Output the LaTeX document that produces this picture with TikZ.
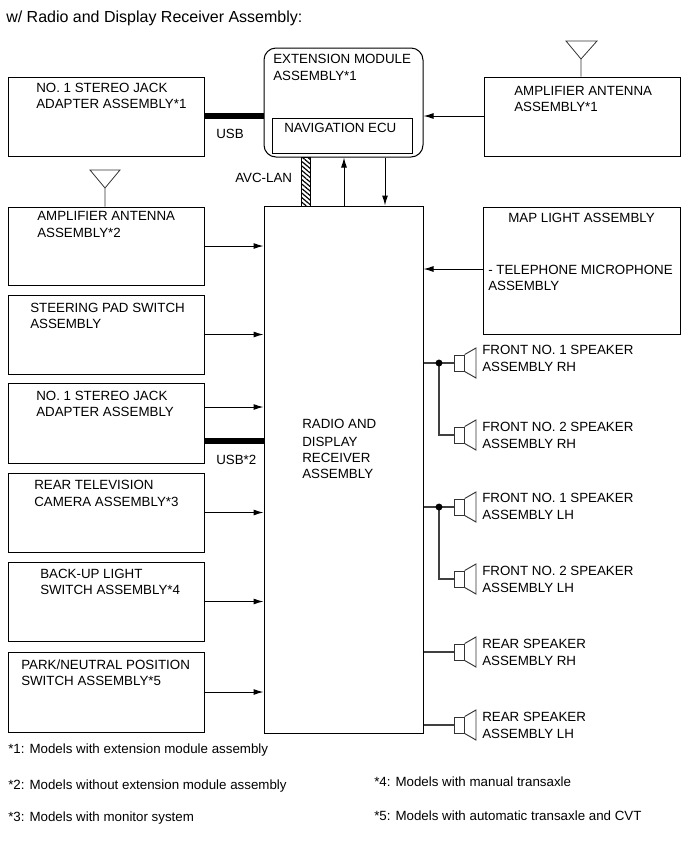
\documentclass[tikz,border=0pt]{standalone}
\usepackage{fontspec}
\setmainfont{Liberation Sans}
\usetikzlibrary{arrows.meta, fit, patterns.meta}
\tikzset{
  blk/.style={rectangle, draw=black, line width=0.75pt, inner sep=0pt},
  txt/.style={anchor=west, inner sep=0pt, yshift=-0.75pt, font=\fontsize{10}{12}\selectfont},
  note/.style={anchor=west, inner sep=0pt, yshift=-0.75pt, font=\fontsize{10}{12}\selectfont},
  sig/.style={draw=black, line width=0.75pt, -{Latex[length=7.5pt,width=4.5pt]}},
  wire/.style={draw=black!75, line width=0.8pt},
  usbbar/.style={draw=black, line width=4.8pt},
  spkbox/.style={rectangle, draw=black!80, line width=0.7pt, fill=white, minimum width=7pt, minimum height=12pt, inner sep=0pt},
  ant/.style={draw=black!80, line width=0.6pt}
}
\begin{document}
\begin{tikzpicture}[x=0.75pt, y=-0.75pt]
\useasboundingbox (0,0) rectangle (689,854);

\node[txt, font=\fontsize{12}{14}\selectfont] (title) at (6,17) {w/ Radio and Display Receiver Assembly:};

% main unit and extension module
\node[blk, fit={(264,206)(423,733)}] (radio) {};
\node[blk, rounded corners=9pt, fit={(264,48)(423,157)}] (extmod) {};
\node[blk, fit={(272,118)(412,153)}] (navecu) {};
\node[txt] (extmodtxta) at (273,58) {EXTENSION MODULE};
\node[txt] (extmodtxtb) at (273,75) {ASSEMBLY*1};
\node[txt] (navtxt) at (284,127) {NAVIGATION ECU};
\node[txt] (radiotxta) at (302,423) {RADIO AND};
\node[txt] (radiotxtb) at (302,441) {DISPLAY};
\node[txt] (radiotxtc) at (302,457) {RECEIVER};
\node[txt] (radiotxtd) at (302,473) {ASSEMBLY};

% boxes on the left
\node[blk, fit={(8,77)(204,156)}] (jacka) {};
\node[blk, fit={(8,207)(204,285)}] (ampb) {};
\node[blk, fit={(8,295)(204,374)}] (steer) {};
\node[blk, fit={(8,383)(204,463)}] (jackb) {};
\node[blk, fit={(8,473)(204,552)}] (camera) {};
\node[blk, fit={(8,562)(204,641)}] (backup) {};
\node[blk, fit={(8,652)(204,732)}] (park) {};

\node[txt] (jackatxta) at (36,87) {NO. 1 STEREO JACK};
\node[txt] (jackatxtb) at (36,103) {ADAPTER ASSEMBLY*1};
\node[txt] (ampbtxta) at (37,215) {AMPLIFIER ANTENNA};
\node[txt] (ampbtxtb) at (37,232) {ASSEMBLY*2};
\node[txt] (steertxta) at (30,307) {STEERING PAD SWITCH};
\node[txt] (steertxtb) at (30,323) {ASSEMBLY};
\node[txt] (jackbtxta) at (36,395) {NO. 1 STEREO JACK};
\node[txt] (jackbtxtb) at (36,411) {ADAPTER ASSEMBLY};
\node[txt] (cameratxta) at (34,484) {REAR TELEVISION};
\node[txt] (cameratxtb) at (34,501) {CAMERA ASSEMBLY*3};
\node[txt] (backuptxta) at (40,573) {BACK-UP LIGHT};
\node[txt] (backuptxtb) at (40,589) {SWITCH ASSEMBLY*4};
\node[txt] (parktxta) at (21,664) {PARK/NEUTRAL POSITION};
\node[txt] (parktxtb) at (21,680) {SWITCH ASSEMBLY*5};

% boxes on the right
\node[blk, fit={(484,77)(680,156)}] (ampa) {};
\node[blk, fit={(483,207)(680,334)}] (maplight) {};
\node[txt] (ampatxta) at (514,90) {AMPLIFIER ANTENNA};
\node[txt] (ampatxtb) at (514,106) {ASSEMBLY*1};
\node[txt] (maptxta) at (508,217) {MAP LIGHT ASSEMBLY};
\node[txt] (maptxtb) at (488,269) {- TELEPHONE MICROPHONE};
\node[txt] (maptxtc) at (488,285) {ASSEMBLY};

% antennas
\coordinate (anta) at (581,59);
\coordinate (antb) at (105,188);
\draw[ant] (ampa.north -| anta) -- (anta) -- (566,41) -- (597,41) -- (anta);
\draw[ant] (ampb.north -| antb) -- (antb) -- (90,170) -- (120,170) -- (antb);

% signal lines
\coordinate (upline) at (344,206);
\coordinate (downline) at (385,206);
\draw[sig] (ampa.west |- 0,116) -- (extmod.east |- 0,116);
\draw[sig] (radio.north -| upline) -- (extmod.south -| upline);
\draw[sig] (extmod.south -| downline) -- (radio.north -| downline);
\draw[sig] (ampb.east) -- (radio.west |- ampb.east);
\draw[sig] (steer.east) -- (radio.west |- steer.east);
\draw[sig] (jackb.east |- 0,407) -- (radio.west |- 0,407);
\draw[sig] (camera.east) -- (radio.west |- camera.east);
\draw[sig] (backup.east) -- (radio.west |- backup.east);
\draw[sig] (park.east) -- (radio.west |- park.east);
\draw[sig] (maplight.west |- 0,269) -- (radio.east |- 0,269);

% USB and AVC-LAN
\draw[usbbar] (jacka.east |- 0,116) -- (extmod.west |- 0,116);
\draw[usbbar] (jackb.east |- 0,441) -- (radio.west |- 0,441);
\node[txt] (usba) at (216,133) {USB};
\node[txt] (usbb) at (216,459) {USB*2};
\node[draw=black, line width=0.5pt, inner sep=0pt, pattern={Lines[angle=-40,distance=2.6pt,line width=0.9pt]}, fit={(301,157)(310,206)}] (avclan) {};
\node[txt] (avctxt) at (235,177) {AVC-LAN};

% speakers
\foreach \spk/\yy/\ytxt/\linea/\lineb in {
  fa/363/349/FRONT NO. 1 SPEAKER/ASSEMBLY RH,
  fb/435/426/FRONT NO. 2 SPEAKER/ASSEMBLY RH,
  fc/507/497/FRONT NO. 1 SPEAKER/ASSEMBLY LH,
  fd/579/570/FRONT NO. 2 SPEAKER/ASSEMBLY LH,
  fe/652/643/REAR SPEAKER/ASSEMBLY RH,
  ff/725/716/REAR SPEAKER/ASSEMBLY LH} {
  \node[spkbox] (spk\spk) at (459.5,\yy) {};
  \draw[draw=black!80, line width=0.7pt] (spk\spk.north east) -- (476,\yy-15) -- (476,\yy+15) -- (spk\spk.south east);
  \node[txt] at (482,\ytxt) {\linea};
  \node[txt] at (482,\ytxt+17) {\lineb};
}
\coordinate (jointa) at (439,362);
\coordinate (jointb) at (439,506);
\draw[wire] (radio.east |- spkfa.west) -- (spkfa.west);
\draw[wire] (radio.east |- spkfc.west) -- (spkfc.west);
\draw[wire] (radio.east |- spkfe.west) -- (spkfe.west);
\draw[wire] (radio.east |- spkff.west) -- (spkff.west);
\draw[wire] (jointa |- spkfa.west) |- (spkfb.west);
\draw[wire] (jointb |- spkfc.west) |- (spkfd.west);
\fill (jointa |- spkfa.west) circle[radius=2.6pt];
\fill (jointb |- spkfc.west) circle[radius=2.6pt];

% footnotes
\node[note] (notea) at (8,749) {*1: Models with extension module assembly};
\node[note] (noteb) at (8,785) {*2: Models without extension module assembly};
\node[note] (notec) at (8,817) {*3: Models with monitor system};
\node[note] (noted) at (374,781) {*4: Models with manual transaxle};
\node[note] (notee) at (374,815) {*5: Models with automatic transaxle and CVT};
\end{tikzpicture}
\end{document}
